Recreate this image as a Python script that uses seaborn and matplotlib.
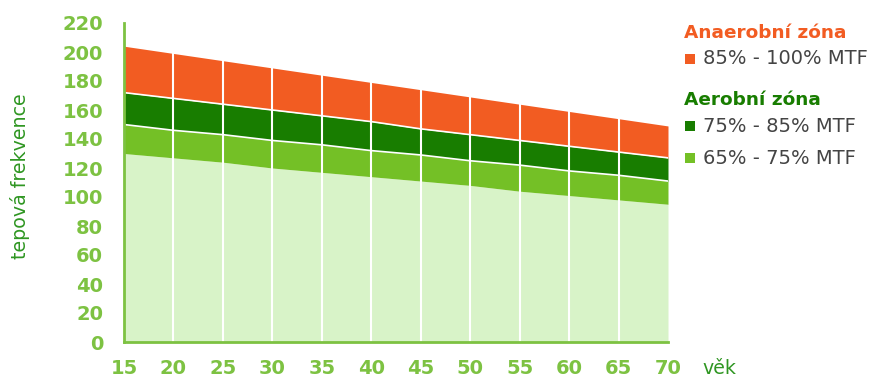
import numpy as np
import pandas as pd
import matplotlib
matplotlib.use("Agg")
import matplotlib.pyplot as plt
from matplotlib.patches import Rectangle
import seaborn as sns

# age (x) and zone boundaries in beats per minute
ages = [15, 20, 25, 30, 35, 40, 45, 50, 55, 60, 65, 70]
hr_100 = [204, 199, 194, 189, 184, 179, 174, 169, 164, 159, 154, 149]
hr_85 = [172, 168, 164, 160, 156, 152, 147, 143, 139, 135, 131, 127]
hr_75 = [150, 146, 143, 139, 136, 132, 129, 125, 122, 118, 115, 111]
hr_65 = [130, 127, 124, 120, 117, 114, 111, 108, 104, 101, 98, 95]
y_ticks = list(range(0, 221, 20))

ORANGE = "#f25c22"
DARK_GREEN = "#187d00"
MID_GREEN = "#74c026"
PALE_GREEN = "#d8f3c8"
AXIS_GREEN = "#7dc242"
TEXT_GREEN = "#2f9622"

df = pd.DataFrame({"age": ages, "p100": hr_100, "p85": hr_85,
                   "p75": hr_75, "p65": hr_65})

sns.set_style("white")
plt.rcParams["font.family"] = ["DejaVu Sans"]

W, H = 875, 379
fig = plt.figure(figsize=(W / 100, H / 100), dpi=100)
ax = fig.add_axes([124 / W, (H - 342) / H, (668 - 124) / W, (342 - 23) / H])

ax.fill_between(df["age"], 0, df["p65"], color=PALE_GREEN, lw=0, zorder=1)
ax.fill_between(df["age"], df["p65"], df["p75"], color=MID_GREEN, lw=0, zorder=1)
ax.fill_between(df["age"], df["p75"], df["p85"], color=DARK_GREEN, lw=0, zorder=1)
ax.fill_between(df["age"], df["p85"], df["p100"], color=ORANGE, lw=0, zorder=1)

# thin white separators between the upper zones
sns.lineplot(data=df, x="age", y="p85", color="white", lw=1.2, ax=ax, zorder=2)
sns.lineplot(data=df, x="age", y="p75", color="white", lw=1.2, ax=ax, zorder=2)

# white vertical grid inside the filled area
ax.vlines(df["age"][1:-1], 0, df["p100"][1:-1], color="white", lw=1.5, zorder=3)

ax.set_xlim(15, 70)
ax.set_ylim(0, 220)
ax.set_xticks(ages)
ax.set_yticks(y_ticks)
ax.set_xlabel("")
ax.set_ylabel("")

for side in ["top", "right"]:
    ax.spines[side].set_visible(False)
for side in ["left", "bottom"]:
    ax.spines[side].set_color(AXIS_GREEN)
    ax.spines[side].set_linewidth(2)
    ax.spines[side].set_zorder(4)

ax.tick_params(axis="both", direction="out", length=6, width=2,
               color=AXIS_GREEN, labelcolor=AXIS_GREEN, labelsize=14)
ax.tick_params(axis="y", pad=9)
ax.tick_params(axis="x", pad=6)
for lab in ax.get_xticklabels() + ax.get_yticklabels():
    lab.set_fontweight("bold")

fig.text(20 / W, 1 - 176 / H, "tepová frekvence", rotation=90,
         ha="center", va="center", color=TEXT_GREEN, fontsize=13.7)
fig.text(719 / W, 1 - 369 / H, "věk", ha="center", va="center",
         color=TEXT_GREEN, fontsize=13.7)

# legend drawn by hand
fig.text(684 / W, 1 - 33 / H, "Anaerobní zóna", ha="left", va="center",
         color=ORANGE, fontsize=13.3, fontweight="bold")
fig.text(684 / W, 1 - 100 / H, "Aerobní zóna", ha="left", va="center",
         color=DARK_GREEN, fontsize=13.3, fontweight="bold")
legend_rows = [(59, ORANGE, "85% - 100% MTF"),
               (126, DARK_GREEN, "75% - 85% MTF"),
               (158, MID_GREEN, "65% - 75% MTF")]
for yc, col, txt in legend_rows:
    fig.add_artist(Rectangle((685 / W, 1 - (yc + 5) / H), 10 / W, 10 / H,
                             transform=fig.transFigure, color=col, lw=0))
    fig.text(703 / W, 1 - yc / H, txt, ha="left", va="center",
             color="#444444", fontsize=14)

fig.savefig("out.png", dpi=100)
